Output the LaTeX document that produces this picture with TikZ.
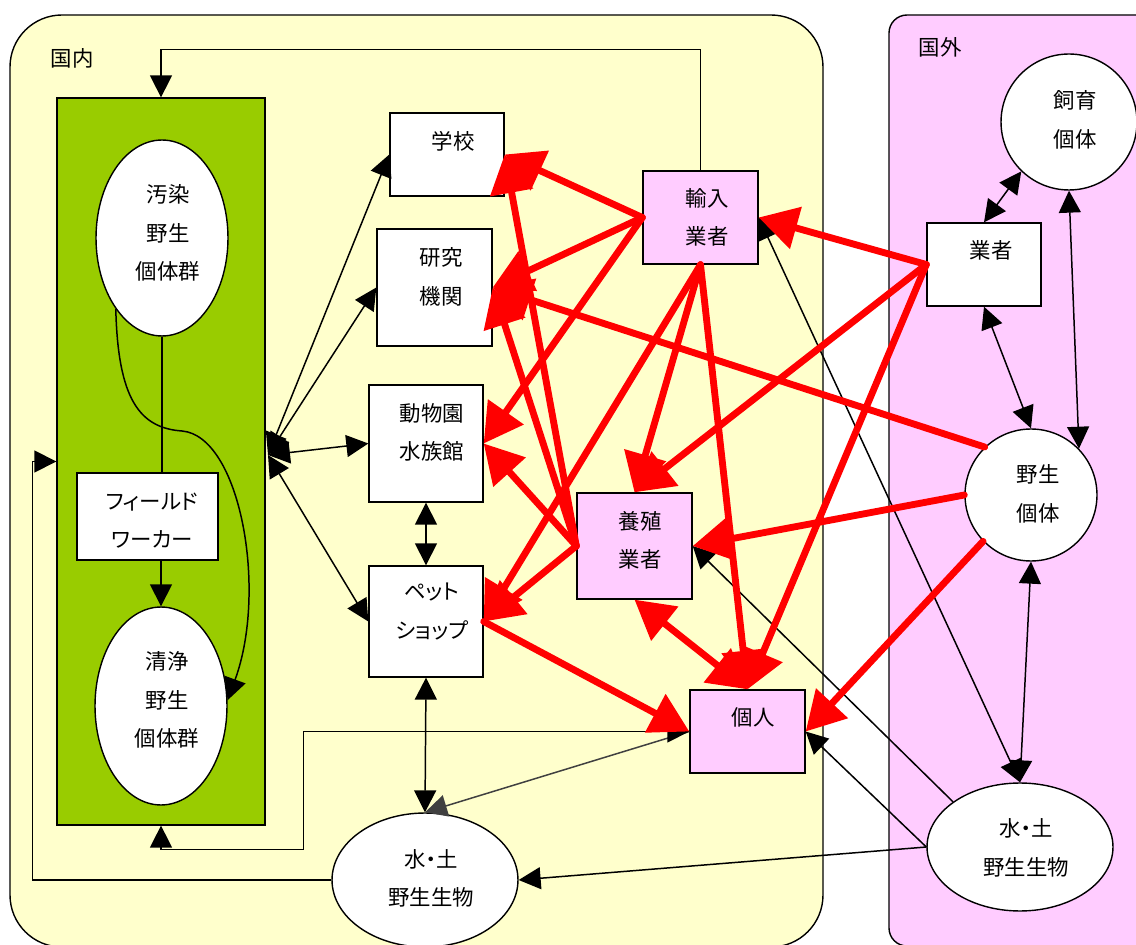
\documentclass[tikz,border=0pt]{standalone}
\usepackage{fontspec}
\newfontfamily\jp[RawFeature=+palt]{Noto Sans CJK JP}
\usetikzlibrary{arrows.meta,shapes.geometric,calc}
\definecolor{dom}{HTML}{FFFFCC}
\definecolor{frn}{HTML}{FFCCFF}
\definecolor{grn}{HTML}{99CC00}
\definecolor{pinkbox}{HTML}{FFCCFF}
\definecolor{redarr}{HTML}{FF0000}
\definecolor{grayarr}{HTML}{404040}
\begin{document}
\begin{tikzpicture}[x=0.02cm,y=-0.02cm,
  box/.style={draw=black,line width=0.8pt,fill=white,rectangle,inner sep=0pt},
  pbox/.style={box,fill=pinkbox},
  ell/.style={draw=black,line width=0.8pt,fill=white,ellipse,inner sep=0pt},
  circ/.style={draw=black,line width=0.8pt,fill=white,circle,inner sep=0pt},
  txt/.style={font=\jp\fontsize{12.2pt}{21.8pt}\selectfont,align=center,inner sep=0pt},
  bk/.style={line width=0.85pt,draw=black},
  b1/.style={bk,-{Triangle[length=12.5pt,width=12.5pt]}},
  b2/.style={bk,{Triangle[length=12.5pt,width=12.5pt]}-{Triangle[length=12.5pt,width=12.5pt]}},
  gr/.style={line width=0.85pt,draw=grayarr,-{Triangle[length=12.5pt,width=12.5pt]}},
  ra/.style={draw=redarr,line width=3.9pt,line cap=round,-{Triangle[length=22pt,width=24pt]}},
  ra2/.style={draw=redarr,line width=3.9pt,{Triangle[length=22pt,width=24pt]}-{Triangle[length=22pt,width=24pt]}}
]
\useasboundingbox (0,0) rectangle (1136,945);
\clip (0,0) rectangle (1136,945);

% regions
\path[fill=dom,draw=black,line width=0.8pt,rounded corners=1.04cm] (10,15) rectangle (823,947);
\path[fill=frn,draw=black,line width=0.8pt,rounded corners=0.36cm] (889,15) rectangle (1170,946);
\node[txt] (lbldom) at (72,58) {国内};
\node[txt] (lblfrn) at (940,47) {国外};

% green area
\node[draw=black,line width=0.8pt,fill=grn,minimum width=4.16cm,minimum height=14.54cm,inner sep=0pt] (green) at (161,461.5) {};

% nodes
\node[ell,minimum width=2.64cm,minimum height=3.92cm] (osen) at (162,238) {};
\node[txt] (tosen) at (168,233) {汚染\\野生\\個体群};
\node[box,minimum width=2.82cm,minimum height=1.74cm] (fw) at (147.5,516.5) {};
\node[txt] (tfw) at (152,520.5) {フィールド\\ワーカー};
\node[ell,minimum width=2.64cm,minimum height=3.96cm] (seijo) at (161,706) {};
\node[txt] (tseijo) at (167,700) {清浄\\野生\\個体群};

\node[box,minimum width=2.28cm,minimum height=1.66cm] (gakko) at (447,154.5) {};
\node[txt] (tgakko) at (453,141) {学校};
\node[box,minimum width=2.30cm,minimum height=2.34cm] (kenkyu) at (434.5,287.5) {};
\node[txt] (tkenkyu) at (441,277) {研究\\機関};
\node[box,minimum width=2.28cm,minimum height=2.34cm] (dobutsu) at (426,443.5) {};
\node[txt] (tdobutsu) at (432,432.5) {動物園\\水族館};
\node[box,minimum width=2.28cm,minimum height=2.22cm] (pet) at (426,621.5) {};
\node[txt] (tpet) at (432,611.5) {ペット\\ショップ};
\node[pbox,minimum width=2.30cm,minimum height=2.12cm] (yoshoku) at (634.5,546) {};
\node[txt] (tyoshoku) at (640,540) {養殖\\業者};
\node[pbox,minimum width=2.30cm,minimum height=1.86cm] (yunyu) at (700.5,217.5) {};
\node[txt] (tyunyu) at (707,217.5) {輸入\\業者};
\node[pbox,minimum width=2.30cm,minimum height=1.66cm] (kojin) at (747.5,731.5) {};
\node[txt] (tkojin) at (753,717) {個人};
\node[ell,minimum width=3.72cm,minimum height=2.68cm] (mizuD) at (425,880) {};
\node[txt] (tmizuD) at (431,878.5) {水・土\\野生生物};

\node[box,minimum width=2.28cm,minimum height=1.66cm] (gyoshaF) at (984,264.5) {};
\node[txt] (tgyoshaF) at (991,250) {業者};
\node[circ,minimum size=2.72cm] (shiiku) at (1069,122) {};
\node[txt] (tshiiku) at (1075,120) {飼育\\個体};
\node[circ,minimum size=2.64cm] (yasei) at (1031,495) {};
\node[txt] (tyasei) at (1038,494) {野生\\個体};
\node[ell,minimum width=3.72cm,minimum height=2.56cm] (mizuF) at (1020,847) {};
\node[txt] (tmizuF) at (1026,848) {水・土\\野生生物};

\coordinate (hub) at (268,455);

% black connectors
\draw[b2] (hub) -- (gakko.west);
\draw[b2] (hub) -- (kenkyu.west);
\draw[b2] (hub) -- (dobutsu.west);
\draw[b2] (hub) -- (pet.west);
\draw[b2] (dobutsu.south) -- (pet.north);
\draw[b2] (pet.south) -- (mizuD.north);
\draw[gr] (kojin.west) -- (mizuD.north);
\draw[b2] (kojin.west) -- ++(-386,0) |- ($(green.south)+(0,24)$) -- (green.south);
\draw[b1] (mizuD.west) -| ($(green.west)+(-24,0)$) -- (green.west);
\draw[b1] (yunyu.north) |- ($(green.north)+(0,-48)$) -- (green.north);
\draw[bk] (osen.south) -- (osen.south |- fw.north);
\draw[b1] (seijo.north |- fw.south) -- (seijo.north);
\draw[b1] (osen.237) .. controls (118,400) and (140,428) .. (182,431) .. controls (240,436) and (268,590) .. (seijo.5);

\draw[b2] (gyoshaF.north) -- (shiiku.226);
\draw[b2] (gyoshaF.south) -- (yasei.north);
\draw[b2] (shiiku.south) -- (yasei.44);
\draw[b2] (yasei.south) -- (mizuF.north);
\draw[b2] (yunyu.east) -- (mizuF.north);
\draw[b1] (mizuF.west) -- (kojin.east);
\draw[b1] (mizuF.146) -- (yoshoku.east);
\draw[b1] (mizuF.west) -- (mizuD.east);

% red connectors
\draw[ra] (yunyu.west) -- (gakko.east);
\draw[ra] (yunyu.west) -- (kenkyu.east);
\draw[ra] (yunyu.west) -- (dobutsu.east);
\draw[ra] (yunyu.south) -- (pet.east);
\draw[ra] (yunyu.south) -- (yoshoku.north);
\draw[ra] (yunyu.south) -- (kojin.north);
\draw[ra] (gyoshaF.west) -- (yunyu.east);
\draw[ra] (gyoshaF.west) -- (yoshoku.north);
\draw[ra] (gyoshaF.west) -- (kojin.north);
\draw[ra] (yoshoku.west) -- (gakko.east);
\draw[ra] (yoshoku.west) -- (kenkyu.east);
\draw[ra] (yoshoku.west) -- (dobutsu.east);
\draw[ra] (yoshoku.west) -- (pet.east);
\draw[ra] (yasei.134) -- (kenkyu.east);
\draw[ra] (yasei.west) -- (yoshoku.east);
\draw[ra] (yasei.224) -- (kojin.east);
\draw[ra] (pet.east) -- (kojin.west);
\draw[ra2] (yoshoku.south) -- (kojin.north);
\end{tikzpicture}
\end{document}
